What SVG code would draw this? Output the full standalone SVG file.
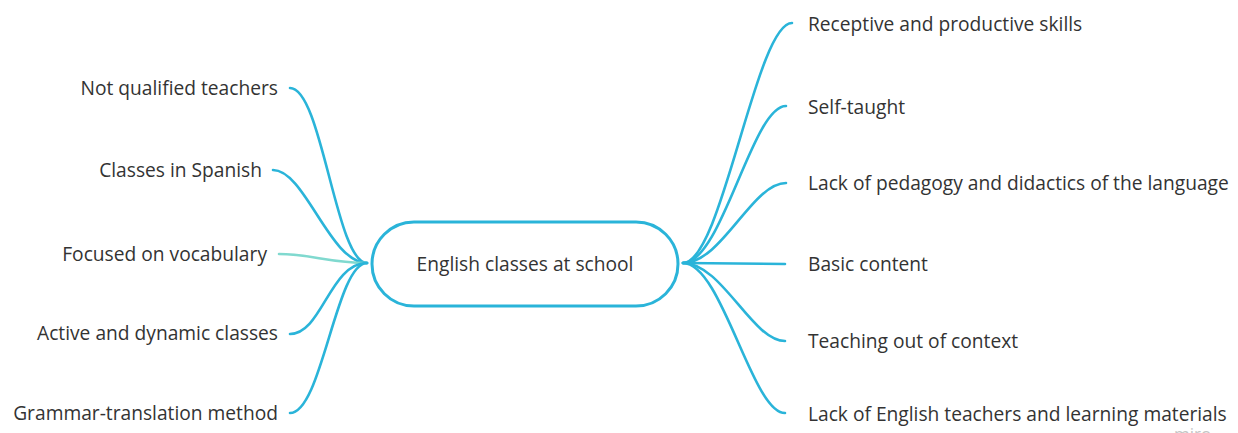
<svg xmlns="http://www.w3.org/2000/svg" width="1238" height="433" viewBox="0 0 1238 433">
  <style>
    .label { font-family: "Open Sans", "Noto Sans", "Liberation Sans", sans-serif; font-size: 19.2px; fill: #333333; }
    .left { text-anchor: end; }
    .link { fill: none; stroke: #2ab4d9; stroke-width: 2.6; stroke-linecap: round; }
    .link.soft { stroke: #80d9cf; }
    .hub { fill: #ffffff; stroke: #2ab4d9; stroke-width: 3; }
  </style>
  <rect width="1238" height="433" fill="#ffffff"/>

  <!-- connectors from the central topic to each branch -->
  <g id="connectors">
    <path class="link" d="M 367 263 C 336 263, 322 88, 290 88"/>
    <path class="link" d="M 367 263 C 330 263, 305 170, 273 170"/>
    <path class="link soft" d="M 367 263 C 330 263, 310 254, 279 254"/>
    <path class="link" d="M 367 263 C 330 263, 322 334, 290 334"/>
    <path class="link" d="M 367 263 C 336 263, 322 413, 290 413"/>

    <path class="link" d="M 683 263 C 722 263, 756 23, 792 23"/>
    <path class="link" d="M 683 263 C 722 263, 752 106, 786 106"/>
    <path class="link" d="M 683 263 C 722 263, 752 183, 786 183"/>
    <path class="link" d="M 683 263 L 785 264"/>
    <path class="link" d="M 683 263 C 722 263, 752 341, 785 341"/>
    <path class="link" d="M 683 263 C 722 263, 752 413, 785 413"/>
  </g>

  <!-- central topic -->
  <g id="center">
    <rect class="hub" x="372" y="222" width="306" height="84" rx="42" ry="42"/>
    <text class="label" x="525" y="271" text-anchor="middle">English classes at school</text>
  </g>

  <!-- left branches -->
  <g id="not-qualified"><text class="label left" x="278" y="95">Not qualified teachers</text></g>
  <g id="classes-spanish"><text class="label left" x="262" y="177">Classes in Spanish</text></g>
  <g id="vocabulary"><text class="label left" x="267" y="261">Focused on vocabulary</text></g>
  <g id="active-dynamic"><text class="label left" x="278" y="340">Active and dynamic classes</text></g>
  <g id="grammar-translation"><text class="label left" x="278" y="420">Grammar-translation method</text></g>

  <!-- right branches -->
  <g id="skills"><text class="label" x="808" y="31">Receptive and productive skills</text></g>
  <g id="self-taught"><text class="label" x="808" y="114">Self-taught</text></g>
  <g id="pedagogy"><text class="label" x="808" y="190">Lack of pedagogy and didactics of the language</text></g>
  <g id="basic-content"><text class="label" x="808" y="271">Basic content</text></g>
  <g id="out-of-context"><text class="label" x="808" y="348">Teaching out of context</text></g>
  <g id="lack-teachers"><text class="label" x="808" y="421">Lack of English teachers and learning materials</text></g>

  <!-- board watermark -->
  <text x="1174" y="440" font-family="Open Sans, Liberation Sans, sans-serif" font-size="17" fill="#c4c4c4">miro</text>
</svg>
